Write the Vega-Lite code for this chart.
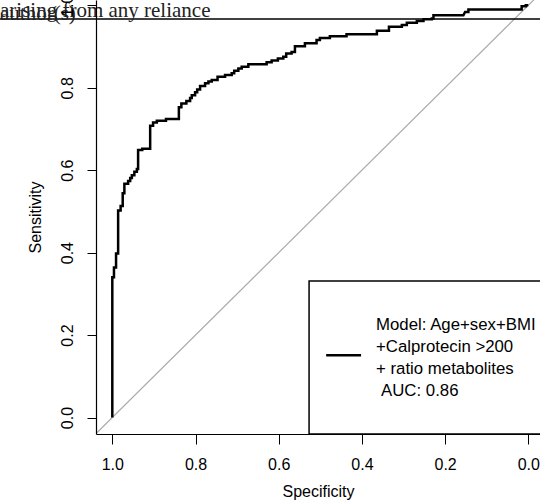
{
  "$schema": "https://vega.github.io/schema/vega-lite/v6.json",
  "width": 444,
  "height": 434,
  "autosize": {"type": "none"},
  "padding": {"left": 96, "top": 0, "right": 0, "bottom": 68},
  "background": "white",
  "config": {"font": "Liberation Sans", "view": {"stroke": null}},
  "encoding": {
    "x": {
      "field": "spec", "type": "quantitative",
      "scale": {"domain": [-0.0281, 1.0392], "reverse": true, "nice": false, "zero": false},
      "axis": {
        "values": [1, 0.8, 0.6, 0.4, 0.2, 0], "format": ".1f", "grid": false, "zindex": 1,
        "domainColor": "black", "domainWidth": 1.2, "tickColor": "black", "tickSize": 10, "tickWidth": 1,
        "labelFontSize": 16, "labelColor": "black", "labelPadding": 12, "labelFlush": false,
        "title": "Specificity", "titleFontSize": 16, "titleFontWeight": "normal", "titleColor": "black", "titlePadding": 11
      }
    },
    "y": {
      "field": "sens", "type": "quantitative",
      "scale": {"domain": [-0.04, 1.0129], "nice": false, "zero": false},
      "axis": {
        "values": [0, 0.2, 0.4, 0.6, 0.8, 1.0], "format": ".1f", "grid": false, "zindex": 1,
        "domainColor": "black", "domainWidth": 1.2, "tickColor": "black", "tickSize": 9, "tickWidth": 1,
        "labelFontSize": 16, "labelColor": "black", "labelAngle": -90, "labelPadding": 12, "labelFlush": false,
        "title": "Sensitivity", "titleFontSize": 16, "titleFontWeight": "normal", "titleColor": "black", "titlePadding": 16
      }
    }
  },
  "layer": [
    {
      "data": {"values": [{"spec": 1.1, "sens": -0.1}, {"spec": -0.1, "sens": 1.1}]},
      "mark": {"type": "line", "color": "#aaaaaa", "strokeWidth": 1.2, "clip": true}
    },
    {
      "data": {"values": [{"spec": 0.527, "spec2": -0.1, "sens": -0.04, "sens2": 0.331}]},
      "mark": {"type": "rect", "fill": "white", "stroke": "black", "strokeWidth": 1.5, "clip": true},
      "encoding": {"x2": {"field": "spec2"}, "y2": {"field": "sens2"}}
    },
    {
      "data": {"values": [
        {"i": 1, "spec": 1.000, "sens": 0.000},
        {"i": 2, "spec": 1.000, "sens": 0.340},
        {"i": 3, "spec": 0.996, "sens": 0.340},
        {"i": 4, "spec": 0.996, "sens": 0.364},
        {"i": 5, "spec": 0.991, "sens": 0.364},
        {"i": 6, "spec": 0.991, "sens": 0.398},
        {"i": 7, "spec": 0.986, "sens": 0.398},
        {"i": 8, "spec": 0.986, "sens": 0.502},
        {"i": 9, "spec": 0.980, "sens": 0.502},
        {"i": 10, "spec": 0.980, "sens": 0.513},
        {"i": 11, "spec": 0.975, "sens": 0.513},
        {"i": 12, "spec": 0.975, "sens": 0.544},
        {"i": 13, "spec": 0.971, "sens": 0.544},
        {"i": 14, "spec": 0.971, "sens": 0.567},
        {"i": 15, "spec": 0.962, "sens": 0.567},
        {"i": 16, "spec": 0.962, "sens": 0.574},
        {"i": 17, "spec": 0.957, "sens": 0.574},
        {"i": 18, "spec": 0.957, "sens": 0.581},
        {"i": 19, "spec": 0.953, "sens": 0.581},
        {"i": 20, "spec": 0.953, "sens": 0.588},
        {"i": 21, "spec": 0.947, "sens": 0.588},
        {"i": 22, "spec": 0.947, "sens": 0.596},
        {"i": 23, "spec": 0.941, "sens": 0.596},
        {"i": 24, "spec": 0.941, "sens": 0.603},
        {"i": 25, "spec": 0.938, "sens": 0.603},
        {"i": 26, "spec": 0.938, "sens": 0.649},
        {"i": 27, "spec": 0.928, "sens": 0.649},
        {"i": 28, "spec": 0.928, "sens": 0.652},
        {"i": 29, "spec": 0.909, "sens": 0.652},
        {"i": 30, "spec": 0.909, "sens": 0.708},
        {"i": 31, "spec": 0.902, "sens": 0.708},
        {"i": 32, "spec": 0.902, "sens": 0.716},
        {"i": 33, "spec": 0.893, "sens": 0.716},
        {"i": 34, "spec": 0.893, "sens": 0.720},
        {"i": 35, "spec": 0.871, "sens": 0.720},
        {"i": 36, "spec": 0.871, "sens": 0.724},
        {"i": 37, "spec": 0.840, "sens": 0.724},
        {"i": 38, "spec": 0.840, "sens": 0.753},
        {"i": 39, "spec": 0.834, "sens": 0.753},
        {"i": 40, "spec": 0.834, "sens": 0.762},
        {"i": 41, "spec": 0.822, "sens": 0.762},
        {"i": 42, "spec": 0.822, "sens": 0.768},
        {"i": 43, "spec": 0.813, "sens": 0.768},
        {"i": 44, "spec": 0.813, "sens": 0.775},
        {"i": 45, "spec": 0.809, "sens": 0.775},
        {"i": 46, "spec": 0.809, "sens": 0.782},
        {"i": 47, "spec": 0.801, "sens": 0.782},
        {"i": 48, "spec": 0.801, "sens": 0.789},
        {"i": 49, "spec": 0.796, "sens": 0.789},
        {"i": 50, "spec": 0.796, "sens": 0.796},
        {"i": 51, "spec": 0.789, "sens": 0.796},
        {"i": 52, "spec": 0.789, "sens": 0.804},
        {"i": 53, "spec": 0.777, "sens": 0.804},
        {"i": 54, "spec": 0.777, "sens": 0.811},
        {"i": 55, "spec": 0.769, "sens": 0.811},
        {"i": 56, "spec": 0.769, "sens": 0.815},
        {"i": 57, "spec": 0.761, "sens": 0.815},
        {"i": 58, "spec": 0.761, "sens": 0.819},
        {"i": 59, "spec": 0.747, "sens": 0.819},
        {"i": 60, "spec": 0.747, "sens": 0.827},
        {"i": 61, "spec": 0.729, "sens": 0.827},
        {"i": 62, "spec": 0.729, "sens": 0.831},
        {"i": 63, "spec": 0.713, "sens": 0.831},
        {"i": 64, "spec": 0.713, "sens": 0.835},
        {"i": 65, "spec": 0.707, "sens": 0.835},
        {"i": 66, "spec": 0.707, "sens": 0.841},
        {"i": 67, "spec": 0.697, "sens": 0.841},
        {"i": 68, "spec": 0.697, "sens": 0.847},
        {"i": 69, "spec": 0.689, "sens": 0.847},
        {"i": 70, "spec": 0.689, "sens": 0.851},
        {"i": 71, "spec": 0.673, "sens": 0.851},
        {"i": 72, "spec": 0.673, "sens": 0.857},
        {"i": 73, "spec": 0.629, "sens": 0.857},
        {"i": 74, "spec": 0.629, "sens": 0.862},
        {"i": 75, "spec": 0.617, "sens": 0.862},
        {"i": 76, "spec": 0.617, "sens": 0.866},
        {"i": 77, "spec": 0.602, "sens": 0.866},
        {"i": 78, "spec": 0.602, "sens": 0.871},
        {"i": 79, "spec": 0.589, "sens": 0.871},
        {"i": 80, "spec": 0.589, "sens": 0.875},
        {"i": 81, "spec": 0.582, "sens": 0.875},
        {"i": 82, "spec": 0.582, "sens": 0.883},
        {"i": 83, "spec": 0.569, "sens": 0.883},
        {"i": 84, "spec": 0.569, "sens": 0.887},
        {"i": 85, "spec": 0.561, "sens": 0.887},
        {"i": 86, "spec": 0.561, "sens": 0.901},
        {"i": 87, "spec": 0.537, "sens": 0.901},
        {"i": 88, "spec": 0.537, "sens": 0.908},
        {"i": 89, "spec": 0.509, "sens": 0.908},
        {"i": 90, "spec": 0.509, "sens": 0.916},
        {"i": 91, "spec": 0.501, "sens": 0.916},
        {"i": 92, "spec": 0.501, "sens": 0.921},
        {"i": 93, "spec": 0.477, "sens": 0.921},
        {"i": 94, "spec": 0.477, "sens": 0.925},
        {"i": 95, "spec": 0.437, "sens": 0.925},
        {"i": 96, "spec": 0.437, "sens": 0.930},
        {"i": 97, "spec": 0.364, "sens": 0.930},
        {"i": 98, "spec": 0.364, "sens": 0.938},
        {"i": 99, "spec": 0.335, "sens": 0.938},
        {"i": 100, "spec": 0.335, "sens": 0.948},
        {"i": 101, "spec": 0.304, "sens": 0.948},
        {"i": 102, "spec": 0.304, "sens": 0.952},
        {"i": 103, "spec": 0.292, "sens": 0.952},
        {"i": 104, "spec": 0.292, "sens": 0.958},
        {"i": 105, "spec": 0.268, "sens": 0.958},
        {"i": 106, "spec": 0.268, "sens": 0.962},
        {"i": 107, "spec": 0.252, "sens": 0.962},
        {"i": 108, "spec": 0.252, "sens": 0.966},
        {"i": 109, "spec": 0.232, "sens": 0.966},
        {"i": 110, "spec": 0.232, "sens": 0.968},
        {"i": 111, "spec": 0.228, "sens": 0.968},
        {"i": 112, "spec": 0.228, "sens": 0.976},
        {"i": 113, "spec": 0.156, "sens": 0.976},
        {"i": 114, "spec": 0.152, "sens": 0.984},
        {"i": 115, "spec": 0.144, "sens": 0.984},
        {"i": 116, "spec": 0.144, "sens": 0.990},
        {"i": 117, "spec": 0.016, "sens": 0.990},
        {"i": 118, "spec": 0.016, "sens": 0.998},
        {"i": 119, "spec": 0.006, "sens": 0.998},
        {"i": 120, "spec": 0.006, "sens": 1.000},
        {"i": 121, "spec": 0.000, "sens": 1.000}
      ]},
      "mark": {"type": "line", "color": "black", "strokeWidth": 2.5, "strokeJoin": "miter"},
      "encoding": {"order": {"field": "i", "type": "quantitative"}}
    },
    {
      "data": {"values": [{"spec": 0.486, "spec2": 0.402, "sens": 0.151}]},
      "mark": {"type": "rule", "color": "black", "strokeWidth": 2.5},
      "encoding": {"x2": {"field": "spec2"}}
    },
    {
      "data": {"values": [
        {"spec": 0.366, "sens": 0.224, "label": "Model: Age+sex+BMI"},
        {"spec": 0.366, "sens": 0.171, "label": "+Calprotecin >200"},
        {"spec": 0.366, "sens": 0.117, "label": "+ ratio metabolites"},
        {"spec": 0.354, "sens": 0.065, "label": "AUC: 0.86"}
      ]},
      "mark": {"type": "text", "align": "left", "baseline": "middle", "fontSize": 16.8, "color": "black"},
      "encoding": {"text": {"field": "label"}}
    },
    {
      "data": {"values": [{"spec": 1.27, "spec2": -0.03, "sens": 0.9668}]},
      "mark": {"type": "rule", "color": "black", "strokeWidth": 1.3},
      "encoding": {"x2": {"field": "spec2"}}
    },
    {
      "data": {"values": [
        {"spec": 1.27, "sens": 0.9716, "label": "arising from any reliance"},
        {"spec": 1.27, "sens": 0.9632, "label": "author(s)"}
      ]},
      "mark": {"type": "text", "align": "left", "baseline": "alphabetic", "font": "Liberation Serif", "fontSize": 21, "color": "#222222"},
      "encoding": {"text": {"field": "label"}}
    }
  ]
}
